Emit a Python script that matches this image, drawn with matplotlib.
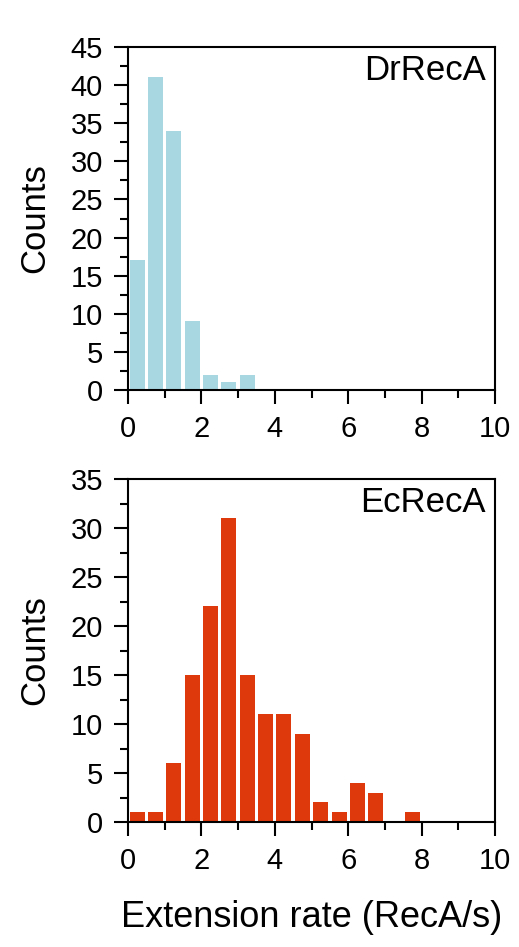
import matplotlib
matplotlib.use("Agg")
import matplotlib.pyplot as plt
from matplotlib.ticker import MultipleLocator

plt.rcParams['font.family'] = ['Liberation Sans', 'DejaVu Sans']

# histogram bins (left edges, width 0.5 RecA/s)
dr_edges = [0.0, 0.5, 1.0, 1.5, 2.0, 2.5, 3.0]
dr_counts = [17, 41, 34, 9, 2, 1, 2]

ec_edges = [0.0, 0.5, 1.0, 1.5, 2.0, 2.5, 3.0, 3.5, 4.0, 4.5, 5.0, 5.5, 6.0, 6.5, 7.0, 7.5]
ec_counts = [1, 1, 6, 15, 22, 31, 15, 11, 11, 9, 2, 1, 4, 3, 0, 1]

bin_w = 0.5


def style_axis(ax, ymax, label):
    ax.set_xlim(0, 10)
    ax.set_ylim(0, ymax)
    ax.xaxis.set_major_locator(MultipleLocator(2))
    ax.xaxis.set_minor_locator(MultipleLocator(1))
    ax.yaxis.set_major_locator(MultipleLocator(5))
    ax.yaxis.set_minor_locator(MultipleLocator(2.5))
    ax.tick_params(which='major', length=10, width=1.5, labelsize=21,
                   direction='out', pad=8)
    ax.tick_params(which='minor', length=6, width=1.5, direction='out')
    for s in ax.spines.values():
        s.set_linewidth(1.5)
    ax.set_ylabel('Counts', fontsize=25, labelpad=14)
    ax.text(0.975, 0.98, label, transform=ax.transAxes, ha='right', va='top',
            fontsize=25)


def main():
    fig = plt.figure(figsize=(5.19, 9.47), dpi=100)
    ax1 = fig.add_axes([128 / 519, 1 - 390 / 947, 367 / 519, 343 / 947])
    ax2 = fig.add_axes([128 / 519, 1 - 822 / 947, 367 / 519, 343 / 947])

    ax1.bar([e + bin_w / 2 for e in dr_edges], dr_counts, width=0.41, color='#a8d7e1')
    style_axis(ax1, 45, 'DrRecA')

    ax2.bar([e + bin_w / 2 for e in ec_edges], ec_counts, width=0.41, color='#de390d')
    style_axis(ax2, 35, 'EcRecA')
    ax2.set_xlabel('Extension rate (RecA/s)', fontsize=26, labelpad=18)

    fig.savefig('out.png', dpi=100)


if __name__ == "__main__":
    main()
